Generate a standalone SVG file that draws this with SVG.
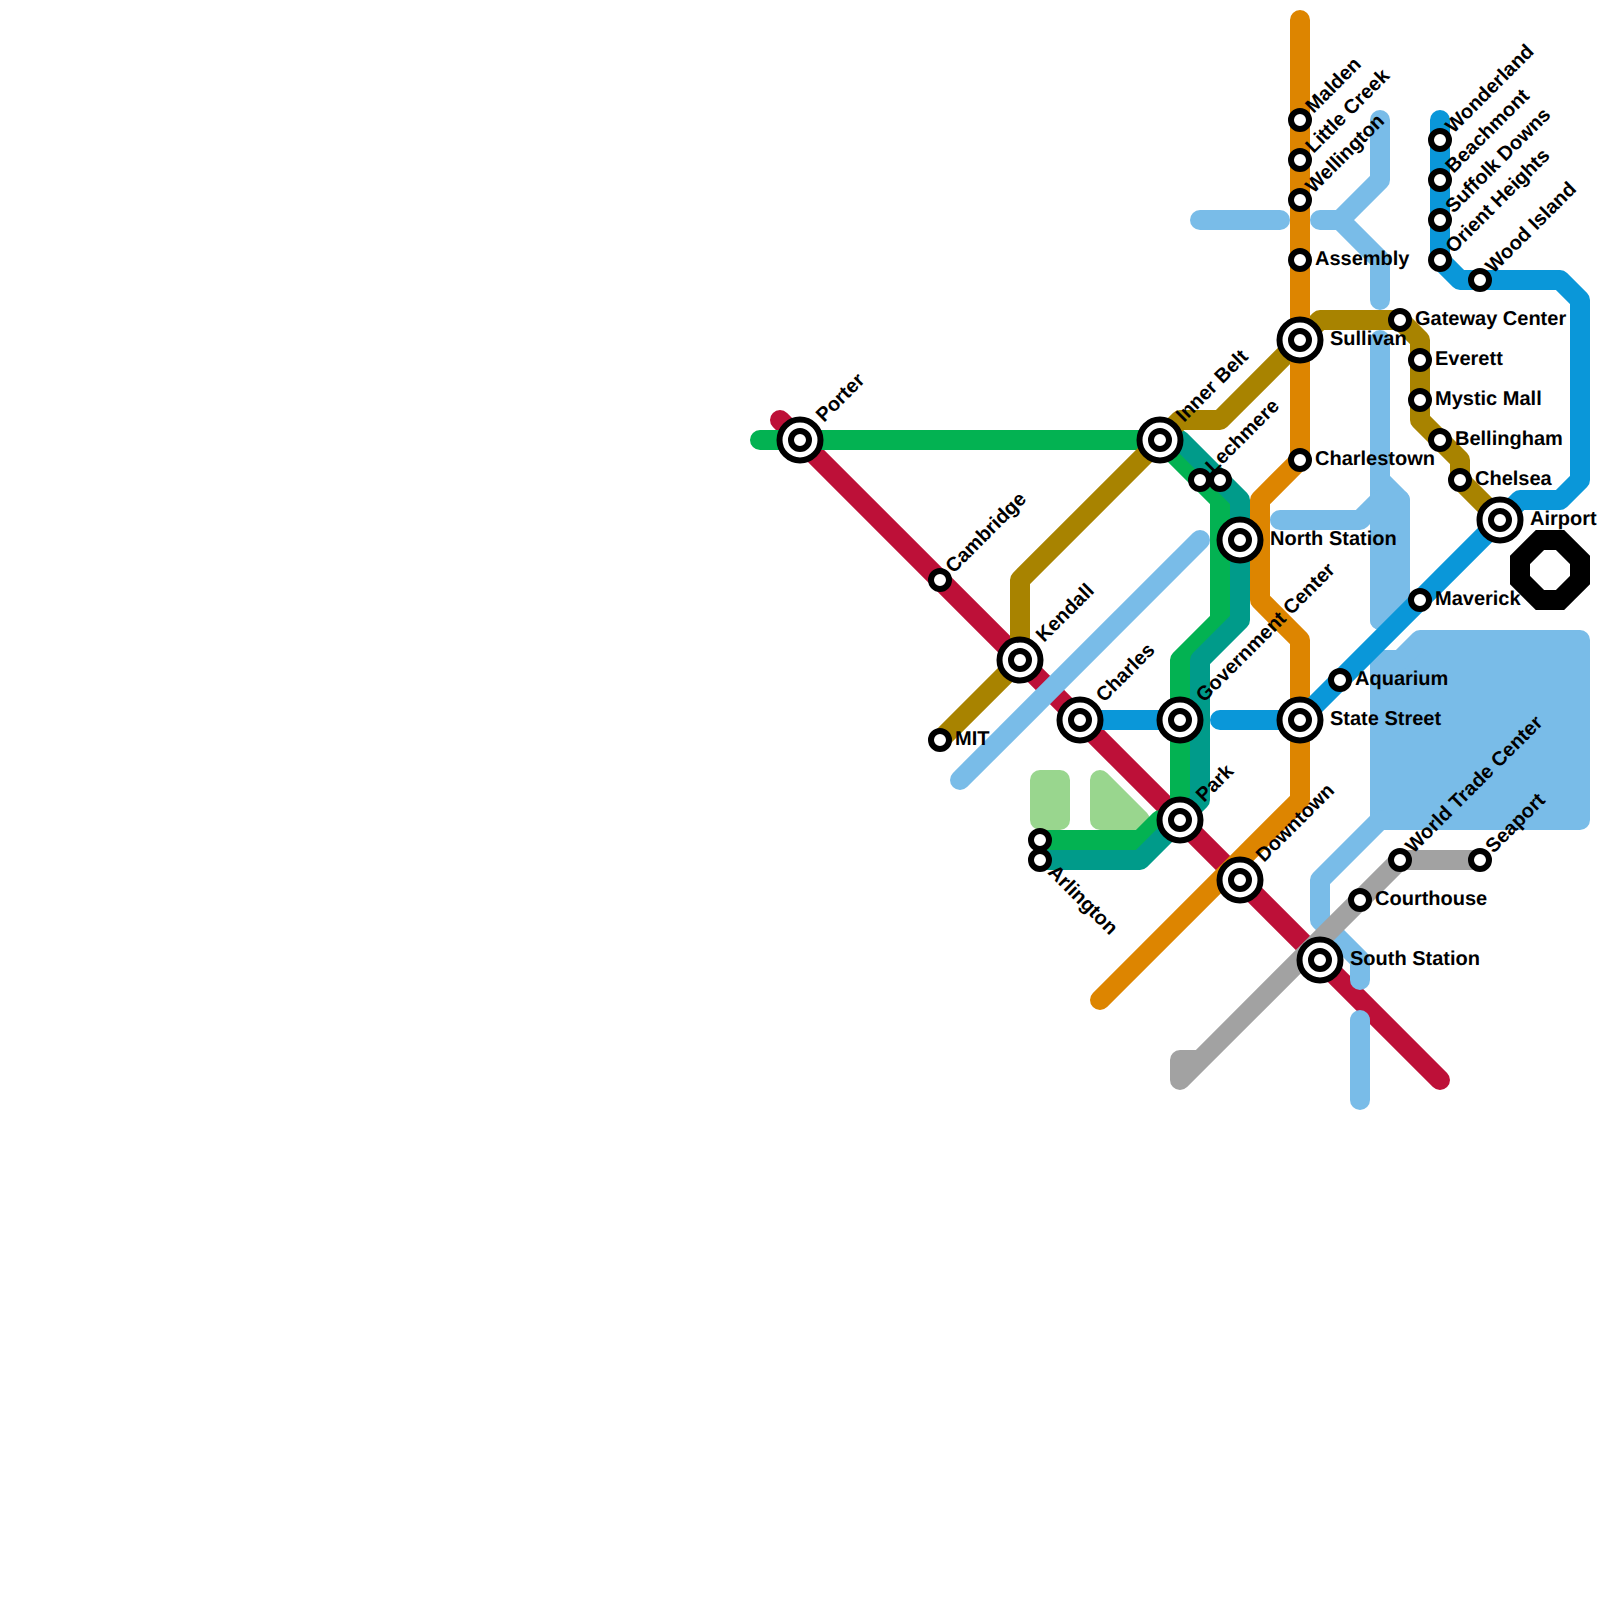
<svg xmlns="http://www.w3.org/2000/svg" width="1600" height="1600" viewBox="0 0 1600 1600">
<style>
.l{fill:none;stroke-width:20;stroke-linecap:round;stroke-linejoin:round}
.red{stroke:#BD1038}.lb{stroke:#79BCE8}.lbf{fill:#79BCE8}.lg{stroke:#99D68E;fill:#99D68E}.gray{stroke:#A2A2A2}.green{stroke:#03B252}.teal{stroke:#009B8A}.gold{stroke:#A88300}.or{stroke:#DD8500}.bl{stroke:#0A97D9}.blk{stroke:#000;stroke-linejoin:miter}
.s{fill:#fff;stroke:#000;stroke-width:6}
text{font-family:"Liberation Sans",Arial,sans-serif;font-weight:700;font-size:20px;fill:#000;text-rendering:geometricPrecision}
</style>
<rect width="1600" height="1600" fill="#fff"/>
<g id="connectors">
<path class="l red" d="M780 420L1440 1080"/>
<path class="l lb" d="M960 780L1200 540"/>
<path class="l lb" d="M1200 220H1280"/>
<path class="l lb" d="M1380 120V180L1340 220H1320M1340 220L1380 260V300"/>
<path class="l lb" d="M1380 340V620M1380 480L1400 500V600M1280 520H1360L1380 500"/>
<path class="l lbf lb" d="M1380 500H1400V600L1380 620Z"/>
<path class="l lbf lb" d="M1380 660H1400L1420 640H1580V820H1380Z"/>
<path class="l lb" d="M1380 820L1320 880V920L1360 960V980"/>
<path class="l lb" d="M1360 1020V1100"/>
<path class="l lg" d="M1040 780H1060V820H1040Z"/>
<path class="l lg" d="M1100 780L1140 820H1100Z"/>
<path class="l gray" d="M1480 860H1400L1180 1080V1060H1200"/>
<path class="l green" d="M760 440H1160L1220 500V620L1180 660V820H1160L1140 840H1040"/>
<path class="l bl" d="M1080 720H1180"/>
<path class="l teal" d="M1180 440L1240 500V620L1200 660V800L1140 860H1040"/>
<path class="l gold" d="M940 740L1020 660V580L1160 440L1180 420H1220L1300 340L1320 320H1400L1420 340V420L1460 460V480L1500 520"/>
<path class="l or" d="M1300 20V460L1260 500V600L1300 640V800L1100 1000"/>
<path class="l bl" d="M1440 120V260L1460 280H1560L1580 300V480L1560 500H1520L1300 720H1220"/>
<path class="l blk" d="M1540 540H1560L1580 560V580L1560 600H1540L1520 580V560Z"/>
</g>
<g id="n-porter"><circle class="s" cx="800" cy="440" r="20.5"/><circle class="s" cx="800" cy="440" r="9"/><text transform="translate(824 423) rotate(-45)">Porter</text></g>
<g id="n-cambridge"><circle class="s" cx="940" cy="580" r="9"/><text transform="translate(953.5 574) rotate(-45)">Cambridge</text></g>
<g id="n-kendall"><circle class="s" cx="1020" cy="660" r="20.5"/><circle class="s" cx="1020" cy="660" r="9"/><text transform="translate(1044 643) rotate(-45)">Kendall</text></g>
<g id="n-mit"><circle class="s" cx="940" cy="740" r="9"/><text x="955" y="745">MIT</text></g>
<g id="n-charles"><circle class="s" cx="1080" cy="720" r="20.5"/><circle class="s" cx="1080" cy="720" r="9"/><text transform="translate(1104 703) rotate(-45)">Charles</text></g>
<g id="n-inner-belt"><circle class="s" cx="1160" cy="440" r="20.5"/><circle class="s" cx="1160" cy="440" r="9"/><text transform="translate(1184 423) rotate(-45)">Inner Belt</text></g>
<g id="n-lechmere"><circle class="s" cx="1200" cy="480" r="9"/><circle class="s" cx="1220" cy="480" r="9"/><text transform="translate(1213.5 474) rotate(-45)">Lechmere</text></g>
<g id="n-north-station"><circle class="s" cx="1240" cy="540" r="20.5"/><circle class="s" cx="1240" cy="540" r="9"/><text x="1270" y="545">North Station</text></g>
<g id="n-government-center"><circle class="s" cx="1180" cy="720" r="20.5"/><circle class="s" cx="1180" cy="720" r="9"/><text transform="translate(1204 703) rotate(-45)">Government Center</text></g>
<g id="n-park"><circle class="s" cx="1180" cy="820" r="20.5"/><circle class="s" cx="1180" cy="820" r="9"/><text transform="translate(1204 803) rotate(-45)">Park</text></g>
<g id="n-downtown"><circle class="s" cx="1240" cy="880" r="20.5"/><circle class="s" cx="1240" cy="880" r="9"/><text transform="translate(1264 863) rotate(-45)">Downtown</text></g>
<g id="n-arlington"><circle class="s" cx="1040" cy="840" r="9"/><circle class="s" cx="1040" cy="860" r="9"/><text transform="translate(1047 873) rotate(45)">Arlington</text></g>
<g id="n-malden"><circle class="s" cx="1300" cy="120" r="9"/><text transform="translate(1313.5 114) rotate(-45)">Malden</text></g>
<g id="n-little-creek"><circle class="s" cx="1300" cy="160" r="9"/><text transform="translate(1313.5 154) rotate(-45)">Little Creek</text></g>
<g id="n-wellington"><circle class="s" cx="1300" cy="200" r="9"/><text transform="translate(1313.5 194) rotate(-45)">Wellington</text></g>
<g id="n-assembly"><circle class="s" cx="1300" cy="260" r="9"/><text x="1315" y="265">Assembly</text></g>
<g id="n-sullivan"><circle class="s" cx="1300" cy="340" r="20.5"/><circle class="s" cx="1300" cy="340" r="9"/><text x="1330" y="345">Sullivan</text></g>
<g id="n-charlestown"><circle class="s" cx="1300" cy="460" r="9"/><text x="1315" y="465">Charlestown</text></g>
<g id="n-gateway-center"><circle class="s" cx="1400" cy="320" r="9"/><text x="1415" y="325">Gateway Center</text></g>
<g id="n-everett"><circle class="s" cx="1420" cy="360" r="9"/><text x="1435" y="365">Everett</text></g>
<g id="n-mystic-mall"><circle class="s" cx="1420" cy="400" r="9"/><text x="1435" y="405">Mystic Mall</text></g>
<g id="n-bellingham"><circle class="s" cx="1440" cy="440" r="9"/><text x="1455" y="445">Bellingham</text></g>
<g id="n-chelsea"><circle class="s" cx="1460" cy="480" r="9"/><text x="1475" y="485">Chelsea</text></g>
<g id="n-airport"><circle class="s" cx="1500" cy="520" r="20.5"/><circle class="s" cx="1500" cy="520" r="9"/><text x="1530" y="525">Airport</text></g>
<g id="n-wonderland"><circle class="s" cx="1440" cy="140" r="9"/><text transform="translate(1453.5 134) rotate(-45)">Wonderland</text></g>
<g id="n-beachmont"><circle class="s" cx="1440" cy="180" r="9"/><text transform="translate(1453.5 174) rotate(-45)">Beachmont</text></g>
<g id="n-suffolk-downs"><circle class="s" cx="1440" cy="220" r="9"/><text transform="translate(1453.5 214) rotate(-45)">Suffolk Downs</text></g>
<g id="n-orient-heights"><circle class="s" cx="1440" cy="260" r="9"/><text transform="translate(1453.5 254) rotate(-45)">Orient Heights</text></g>
<g id="n-wood-island"><circle class="s" cx="1480" cy="280" r="9"/><text transform="translate(1493.5 274) rotate(-45)">Wood Island</text></g>
<g id="n-maverick"><circle class="s" cx="1420" cy="600" r="9"/><text x="1435" y="605">Maverick</text></g>
<g id="n-aquarium"><circle class="s" cx="1340" cy="680" r="9"/><text x="1355" y="685">Aquarium</text></g>
<g id="n-state-street"><circle class="s" cx="1300" cy="720" r="20.5"/><circle class="s" cx="1300" cy="720" r="9"/><text x="1330" y="725">State Street</text></g>
<g id="n-world-trade-center"><circle class="s" cx="1400" cy="860" r="9"/><text transform="translate(1413.5 854) rotate(-45)">World Trade Center</text></g>
<g id="n-seaport"><circle class="s" cx="1480" cy="860" r="9"/><text transform="translate(1493.5 854) rotate(-45)">Seaport</text></g>
<g id="n-courthouse"><circle class="s" cx="1360" cy="900" r="9"/><text x="1375" y="905">Courthouse</text></g>
<g id="n-south-station"><circle class="s" cx="1320" cy="960" r="20.5"/><circle class="s" cx="1320" cy="960" r="9"/><text x="1350" y="965">South Station</text></g>
</svg>
